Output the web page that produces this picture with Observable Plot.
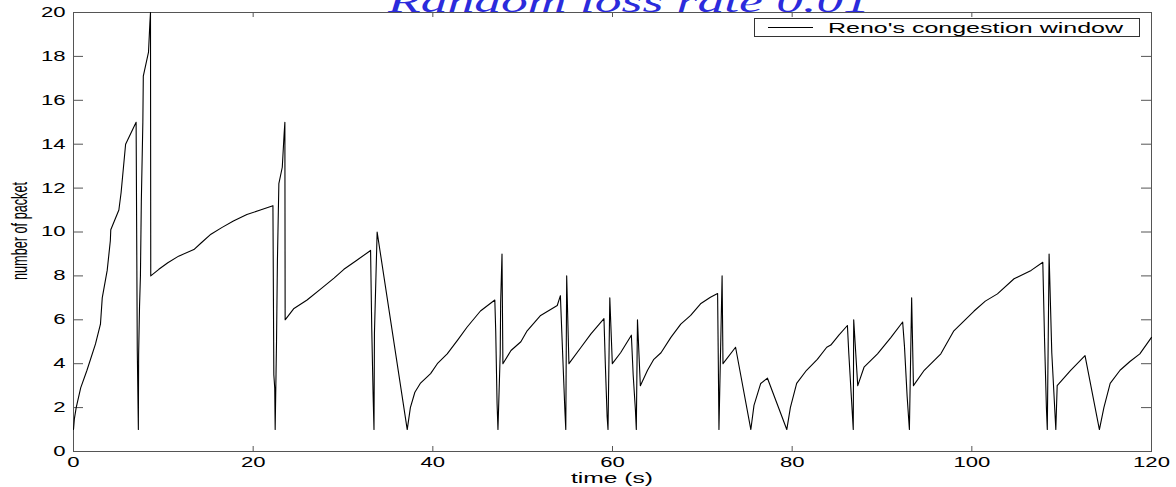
<!DOCTYPE html>
<html><head><meta charset="utf-8">
<script src="https://cdn.jsdelivr.net/npm/d3@7"></script>
<script src="https://cdn.jsdelivr.net/npm/@observablehq/plot@0.6"></script>
<style>body{margin:0;background:#fff} #chart{width:1176px;height:487px}</style>
</head><body><div id="chart"></div>
<script>
const titleText = "Random loss rate 0.01";
const seriesName = "Reno's congestion window";
const xLabel = "time (s)";
const yLabel = "number of packet";
const xTicks = [0, 20, 40, 60, 80, 100, 120];
const yTicks = [0, 2, 4, 6, 8, 10, 12, 14, 16, 18, 20];

const times = [
  0, 0.1, 0.3, 0.8, 1.5, 2.45, 3.0, 3.2, 3.75, 4.1, 4.15, 5.05, 5.3, 5.8, 6.97,
  7.1, 7.22, 7.25, 7.35, 7.45, 7.55, 7.72, 7.77, 8.35, 8.5, 8.57, 8.6,
  9.5, 10.5, 11.7, 13.4, 14.2, 15.3, 16.5, 17.8, 19.3, 20.8, 22.2,
  22.3, 22.4, 22.45, 22.6, 22.7, 22.86, 23.24, 23.45, 23.53, 23.56,
  24.5, 26, 27.5, 29, 30.1, 31.5, 33.07,
  33.2, 33.35, 33.45, 33.5, 33.8,
  37.15,
  37.5, 38.0, 38.6, 39.75, 40.5, 41.6, 42.8, 43.8, 45.3, 46.9,
  47.0, 47.15, 47.25, 47.5, 47.55, 47.7, 47.8,
  48.7, 49.8, 50.5, 52, 53.85, 54.2,
  54.35, 54.7, 54.8, 54.9, 55.15,
  56.5, 57.6, 59.05,
  59.2, 59.4, 59.5, 59.7, 59.98,
  60.9, 62.1,
  62.3, 62.55, 62.65, 62.78, 63.1,
  63.9, 64.6, 65.4, 66.5, 67.6, 68.7, 69.8, 70.9, 71.7,
  71.78, 71.85, 72.2, 72.3,
  73.7, 75.4,
  75.75, 76.5, 77.25,
  78.3, 79.4,
  79.8, 80.5, 81.6, 82.8, 83.85, 84.3, 85.2, 86.15,
  86.3, 86.6, 86.8, 86.85, 87.3,
  88.0, 89.5, 91, 92.3,
  92.5, 92.8, 93.05, 93.3, 93.5,
  94.7, 96.55, 98.0, 100.25, 101.5, 102.85, 104.7, 106.6, 107.9,
  108.1, 108.3, 108.4, 108.6, 108.9, 109.35, 109.5,
  111.0, 112.6,
  114.2,
  114.7, 115.4, 116.5, 117.6, 118.7, 120
];
const cwnd = [
  1, 1.5, 2.0, 2.9, 3.7, 4.9, 5.8, 7.0, 8.25, 9.6, 10.1, 11.0, 11.8, 14.0, 15.0,
  4.6, 1, 4.4, 6.6, 8.0, 11.4, 15.0, 17.1, 18.2, 19.5, 20, 8.0,
  8.3, 8.6, 8.9, 9.2, 9.5, 9.9, 10.2, 10.5, 10.8, 11.0, 11.2,
  3.5, 2.9, 1.0, 5.0, 8.7, 12.2, 12.95, 14.5, 15.0, 6.0,
  6.5, 6.9, 7.4, 7.9, 8.3, 8.7, 9.16,
  5.6, 2.6, 1.0, 5.4, 10.0,
  1.0,
  2.0, 2.7, 3.1, 3.55, 4.0, 4.45, 5.1, 5.66, 6.4, 6.9,
  5.5, 2.2, 1.0, 4.45, 6.8, 9.0, 4.0,
  4.6, 5.0, 5.5, 6.2, 6.65, 7.1,
  5.5, 1.87, 1.0, 8.0, 4.0,
  4.75, 5.36, 6.05,
  4.0, 1.6, 1.0, 7.0, 4.0,
  4.5, 5.3,
  3.5, 1.9, 1.0, 6.0, 3.0,
  3.7, 4.2, 4.5, 5.2, 5.8, 6.2, 6.73, 7.03, 7.2,
  4.0, 1.0, 8.0, 4.0,
  4.75, 1.0,
  2.1, 3.1, 3.34,
  2.2, 1.0,
  2.0, 3.1, 3.7, 4.2, 4.75, 4.85, 5.3, 5.74,
  4.5, 2.4, 1.0, 6.0, 3.0,
  3.84, 4.45, 5.2, 5.9,
  4.8, 2.5, 1.0, 7.0, 3.0,
  3.7, 4.45, 5.5, 6.4, 6.85, 7.18, 7.87, 8.25, 8.62,
  5.0, 2.0, 1.0, 9.0, 4.5, 1.0, 3.0,
  3.7, 4.37,
  1.0,
  2.0, 3.1, 3.7, 4.1, 4.45, 5.2
];

const data = times.map((t, i) => ({t, w: cwnd[i]}));
const W = 1176, H = 487, mL = 73, mR = 25, mT = 12, mB = 36;
const xDom = [0, 120], yDom = [0, 20];
const ytl = (xDom[1] - xDom[0]) * 10 / (W - mL - mR);
const xtl = (yDom[1] - yDom[0]) * 5 / (H - mT - mB);
const axisColor = "#555";

const plot = Plot.plot({
  width: W, height: H,
  marginLeft: mL, marginRight: mR, marginTop: mT, marginBottom: mB,
  style: {fontFamily: "'Liberation Sans', Arial, sans-serif", fontSize: "14px", background: "white", color: "black", overflow: "visible"},
  x: {domain: xDom},
  y: {domain: yDom},
  marks: [
    Plot.frame({stroke: axisColor}),
    Plot.ruleY(yTicks, {x1: xDom[0], x2: xDom[0] + ytl, stroke: axisColor}),
    Plot.ruleY(yTicks, {x1: xDom[1] - ytl, x2: xDom[1], stroke: axisColor}),
    Plot.ruleX(xTicks, {y1: yDom[0], y2: yDom[0] + xtl, stroke: axisColor}),
    Plot.ruleX(xTicks, {y1: yDom[1] - xtl, y2: yDom[1], stroke: axisColor}),
    Plot.axisY(yTicks, {anchor: "left", tickSize: 0, tickPadding: 8, label: null}),
    Plot.axisX(xTicks, {anchor: "bottom", tickSize: 0, tickPadding: 6, label: null}),
    Plot.line(data, {x: "t", y: "w", stroke: "black", strokeWidth: 1.1})
  ]
});
document.getElementById("chart").appendChild(plot);

const svg = d3.select(plot);
// horizontally stretched text like the reference
svg.selectAll("g[aria-label$='tick label'] text").each(function() {
  const len = this.getComputedTextLength();
  d3.select(this).attr("textLength", len * 1.58).attr("lengthAdjust", "spacingAndGlyphs");
});

// title (cut at top as in the reference)
svg.append("text")
  .attr("x", 388).attr("y", 12)
  .attr("text-anchor", "start")
  .attr("fill", "#2b2bdc")
  .style("font-family", "'Liberation Serif', 'DejaVu Serif', serif")
  .style("font-style", "italic")
  .style("font-size", "32px")
  .attr("textLength", 482).attr("lengthAdjust", "spacingAndGlyphs")
  .text(titleText);

// x label
svg.append("text")
  .attr("x", 612).attr("y", 483)
  .attr("text-anchor", "middle")
  .style("font-size", "14px")
  .attr("textLength", 82).attr("lengthAdjust", "spacingAndGlyphs")
  .text(xLabel);

// y label
svg.append("text")
  .attr("transform", "translate(27,231) scale(1.55,1) rotate(-90)")
  .attr("text-anchor", "middle")
  .style("font-size", "14px")
  .attr("textLength", 98).attr("lengthAdjust", "spacingAndGlyphs")
  .text(yLabel);

// legend
const lg = svg.append("g").attr("text-anchor", "start");
lg.append("rect").attr("x", 754.5).attr("y", 18.5).attr("width", 385).attr("height", 18)
  .attr("fill", "white").attr("stroke", "#333");
lg.append("line").attr("x1", 768).attr("x2", 813).attr("y1", 27.5).attr("y2", 27.5)
  .attr("stroke", "black").attr("stroke-width", 1);
lg.append("text").attr("x", 828).attr("y", 32.5)
  .attr("text-anchor", "start")
  .style("font-size", "14px")
  .attr("textLength", 295).attr("lengthAdjust", "spacingAndGlyphs")
  .text(seriesName);
</script>
</body></html>
